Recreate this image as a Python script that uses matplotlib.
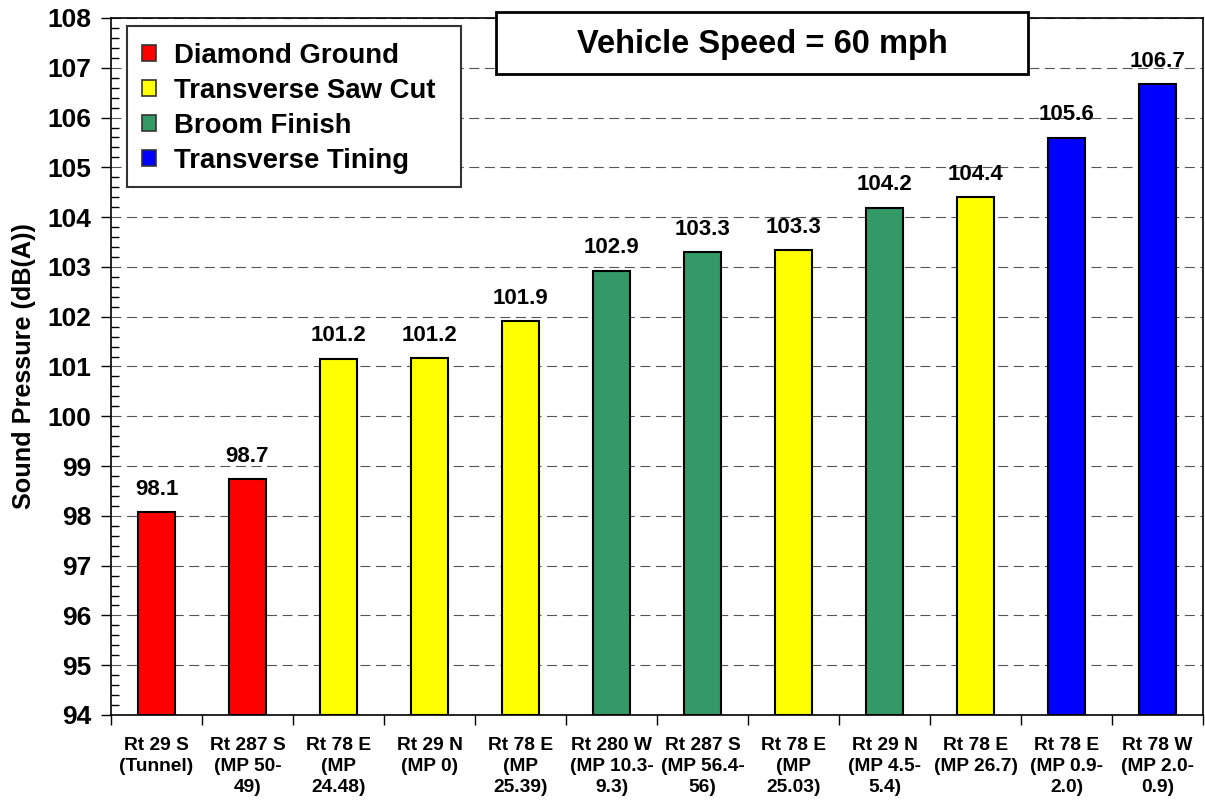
import matplotlib
matplotlib.use("Agg")
import matplotlib.pyplot as plt
from matplotlib.patches import Rectangle, Patch
from matplotlib.ticker import MultipleLocator, FixedLocator, NullFormatter

plt.rcParams['font.family'] = ['Liberation Sans', 'DejaVu Sans']
plt.rcParams['font.weight'] = 'bold'

categories = ["Rt 29 S\n(Tunnel)", "Rt 287 S\n(MP 50-\n49)", "Rt 78 E\n(MP\n24.48)", "Rt 29 N\n(MP 0)",
              "Rt 78 E\n(MP\n25.39)", "Rt 280 W\n(MP 10.3-\n9.3)", "Rt 287 S\n(MP 56.4-\n56)",
              "Rt 78 E\n(MP\n25.03)", "Rt 29 N\n(MP 4.5-\n5.4)", "Rt 78 E\n(MP 26.7)",
              "Rt 78 E\n(MP 0.9-\n2.0)", "Rt 78 W\n(MP 2.0-\n0.9)"]
values = [98.07, 98.74, 101.16, 101.17, 101.91, 102.92, 103.29, 103.33, 104.19, 104.4, 105.59, 106.67]
labels = ["98.1", "98.7", "101.2", "101.2", "101.9", "102.9", "103.3", "103.3", "104.2", "104.4", "105.6", "106.7"]
finish = ["Diamond Ground", "Diamond Ground", "Transverse Saw Cut", "Transverse Saw Cut",
          "Transverse Saw Cut", "Broom Finish", "Broom Finish", "Transverse Saw Cut",
          "Broom Finish", "Transverse Saw Cut", "Transverse Tining", "Transverse Tining"]
legend_order = ["Diamond Ground", "Transverse Saw Cut", "Broom Finish", "Transverse Tining"]
colors = {"Diamond Ground": "#FF0000", "Transverse Saw Cut": "#FFFF00",
          "Broom Finish": "#339966", "Transverse Tining": "#0000FF"}

fig = plt.figure(figsize=(12.05, 8.01), dpi=100)
ax = fig.add_axes([111/1205, 1-715/801, (1203-111)/1205, (715-18)/801])

x = list(range(len(values)))
ax.bar(x, [v - 94 for v in values], bottom=94, width=0.4,
       color=[colors[f] for f in finish], edgecolor='black', linewidth=1.5, zorder=3)
for xi, v, lab in zip(x, values, labels):
    ax.annotate(lab, (xi, v), xytext=(0, 9), textcoords='offset points',
                ha='center', va='bottom', fontsize=16, fontweight='bold', zorder=4)

ax.set_xlim(-0.5, 11.5)
ax.set_ylim(94, 108)
ax.yaxis.set_major_locator(MultipleLocator(1))
ax.yaxis.set_minor_locator(MultipleLocator(0.2))
ax.tick_params(axis='y', which='major', direction='out', length=7, width=1, labelsize=19, pad=7)
ax.tick_params(axis='y', which='minor', direction='in', length=6, width=1)
for t in ax.get_yticklabels():
    t.set_fontweight('bold')

ax.set_xticks(x)
ax.set_xticklabels(categories, fontsize=13.8, fontweight='bold', linespacing=1.3)
ax.tick_params(axis='x', which='major', length=0, pad=16)
ax.xaxis.set_minor_locator(FixedLocator([i - 0.5 for i in range(13)]))
ax.xaxis.set_minor_formatter(NullFormatter())
ax.tick_params(axis='x', which='minor', direction='out', length=7, width=1)

ax.grid(axis='y', which='major', color='#555555', linestyle=(0, (9, 5)), linewidth=0.8, zorder=0)
ax.set_axisbelow(True)
for s in ax.spines.values():
    s.set_linewidth(1.2)
    s.set_color('black')

ax.set_ylabel("Sound Pressure (dB(A))", fontsize=18.2, fontweight='bold', labelpad=8)

# legend frame (drawn separately to match the wider box of the original)
ax.add_patch(Rectangle((16/1092, (715-187)/697), (461-127)/1092, (187-26)/697,
                       transform=ax.transAxes, facecolor='white', edgecolor='#333333',
                       linewidth=1.5, zorder=4.8))
handles = [Patch(facecolor=colors[f], edgecolor='#333333', linewidth=1.2) for f in legend_order]
leg = ax.legend(handles, legend_order, loc='upper left', bbox_to_anchor=(16/1092, 1 - 9.5/697),
                prop={'weight': 'bold', 'size': 19.8}, frameon=False,
                handlelength=0.5, handleheight=0.5, handletextpad=0.65,
                borderpad=0.55, labelspacing=0.33, borderaxespad=0)
leg.set_zorder(5)

fig.patches.append(Rectangle((496/1205, 1-74/801), (1028-496)/1205, (74-12)/801,
                             transform=fig.transFigure, facecolor='white', edgecolor='black',
                             linewidth=2, zorder=10))
fig.text(762/1205, 1-44/801, "Vehicle Speed = 60 mph", ha='center', va='center',
         fontsize=23.5, fontweight='bold', zorder=11)

fig.savefig("out.png", dpi=100)
